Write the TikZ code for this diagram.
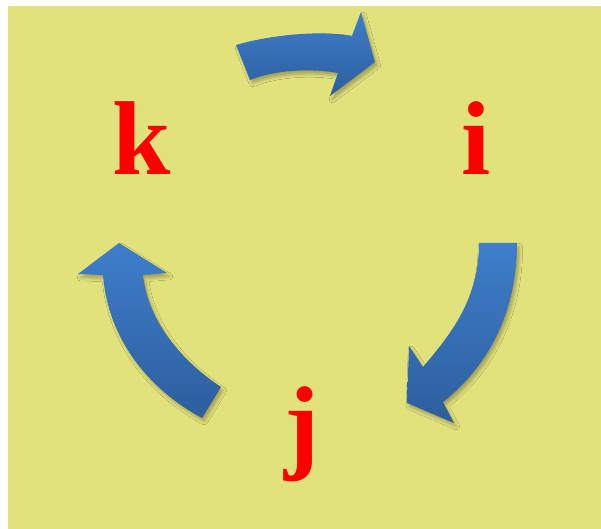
\documentclass[tikz,border=0pt]{standalone}
\usepackage{fontspec}
\setmainfont{Liberation Serif}
\usetikzlibrary{shadows.blur}
\definecolor{bgyellow}{RGB}{226,226,125}
\definecolor{arrowtop}{RGB}{62,126,203}
\definecolor{arrowbot}{RGB}{45,94,157}
\tikzset{
  bigarrow/.style={top color=arrowtop, bottom color=arrowbot, draw=none,
    blur shadow={shadow xshift=1.2pt, shadow yshift=-1.8pt,
      shadow blur radius=1.6pt, shadow opacity=28}},
  letter/.style={text=red, inner sep=0pt, anchor=base,
    font=\fontsize{52.5}{60}\selectfont\bfseries}
}
\begin{document}
\begin{tikzpicture}[x=0.5pt,y=-0.5pt]
  \useasboundingbox (0,0) rectangle (601,529);
  \fill[bgyellow] (8,6) rectangle (601,529);

  % letters
  \node[letter] (k) at (141.5,175) {k};
  \node[letter] (i) at (476.5,175) {i};
  \node[letter] (j) at (302,460) {j};

  % arrow k -> i
  \path[bigarrow] (236,45) .. controls (270,35) and (320,30) .. (352,36)
    -- (361,12) -- (375,62) -- (330,96) -- (338,73)
    .. controls (310,68) and (275,70) .. (250,80) -- cycle;

  % arrow i -> j
  \path[bigarrow] (479,243) -- (517,243)
    .. controls (517,310) and (490,365) .. (443,402)
    -- (454,423) -- (407,403) -- (409,346) -- (423,367)
    .. controls (450,335) and (479,300) .. (479,243) -- cycle;

  % arrow j -> k
  \path[bigarrow] (119,243) -- (167,273) -- (143,275)
    .. controls (148,320) and (180,360) .. (221,387)
    -- (202,418)
    .. controls (150,390) and (108,340) .. (103,275)
    -- (78,274) -- cycle;
\end{tikzpicture}
\end{document}
